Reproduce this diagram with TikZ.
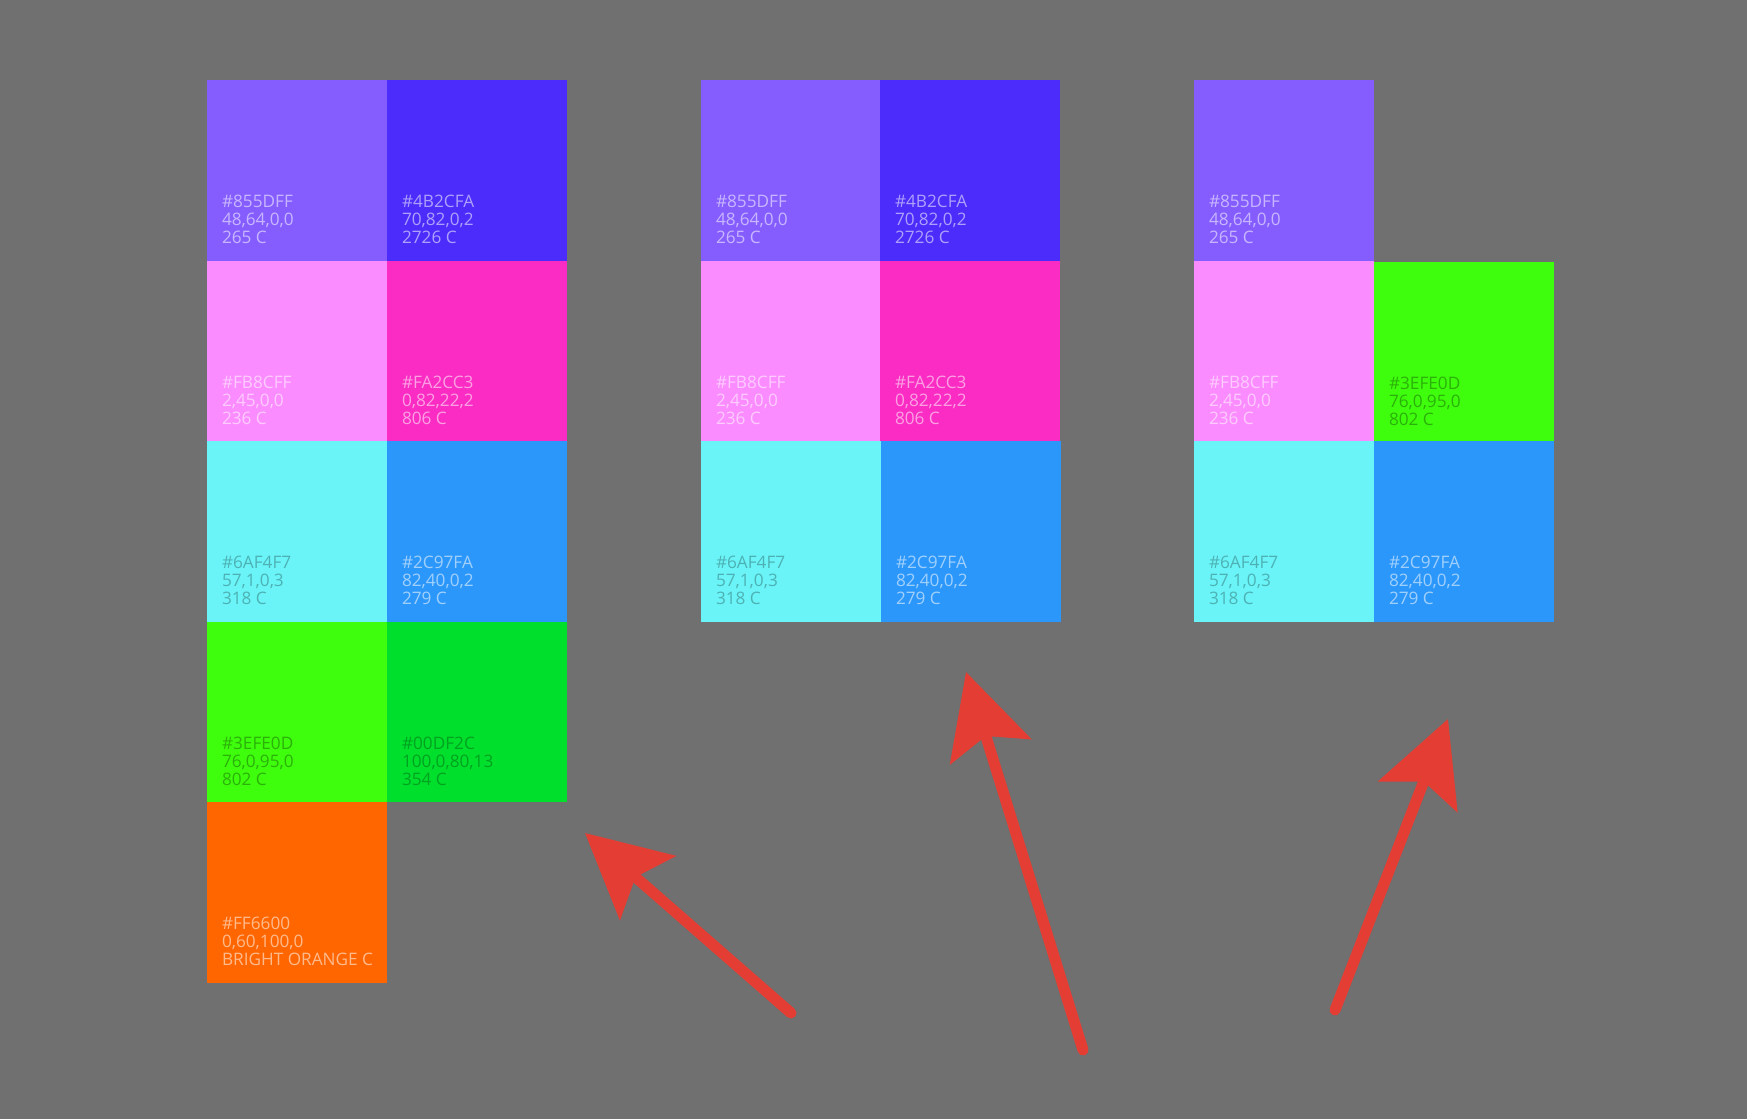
\documentclass[tikz,border=0pt]{standalone}
\usepackage{fontspec}
\setmainfont{Open Sans}
\usetikzlibrary{arrows.meta,calc}
\definecolor{bgcol}{HTML}{707070}
\definecolor{arrowred}{HTML}{E43D33}
\definecolor{cPurple}{HTML}{855DFF}
\definecolor{cBlue}{HTML}{4B2CFA}
\definecolor{cPink}{HTML}{FB8CFF}
\definecolor{cMagenta}{HTML}{FA2CC3}
\definecolor{cCyan}{HTML}{6AF4F7}
\definecolor{cSky}{HTML}{2C97FA}
\definecolor{cLime}{HTML}{3EFE0D}
\definecolor{cGreen}{HTML}{00DF2C}
\definecolor{cOrange}{HTML}{FF6600}
\newcommand\swatch[9]{%
  \node[cellbox, fill=#4] (#1) at (#2,#3) {};
  \node[celltext, text=#5, text opacity=#6] (#1t) at ($(#1.south west)+(15,-17)$) {#7\\#8\\#9};
}
\begin{document}
\begin{tikzpicture}[x=1pt,y=-1pt,
  cellbox/.style={rectangle, draw=none, inner sep=0pt, outer sep=0pt,
    minimum width=180pt, minimum height=180.5pt, anchor=north west},
  celltext/.style={inner sep=0pt, outer sep=0pt, anchor=south west, align=left,
    text depth=0pt, font=\fontsize{17.2}{18}\selectfont},
  redarrow/.style={draw=arrowred, line width=11pt, line cap=round,
    -{Stealth[length=83pt,width=84pt,inset=16pt]}}]
\fill[bgcol] (0,0) rectangle (1747,1119);
\useasboundingbox (0,0) rectangle (1747,1119);
% left block
\swatch{l11}{207}{80}{cPurple}{white}{0.55}{\#855DFF}{48,64,0,0}{265 C}
\swatch{l12}{387}{80}{cBlue}{white}{0.55}{\#4B2CFA}{70,82,0,2}{2726 C}
\swatch{l21}{207}{260.5}{cPink}{white}{0.55}{\#FB8CFF}{2,45,0,0}{236 C}
\swatch{l22}{387}{260.5}{cMagenta}{white}{0.55}{\#FA2CC3}{0,82,22,2}{806 C}
\swatch{l31}{207}{441}{cCyan}{black}{0.27}{\#6AF4F7}{57,1,0,3}{318 C}
\swatch{l32}{387}{441}{cSky}{white}{0.55}{\#2C97FA}{82,40,0,2}{279 C}
\swatch{l41}{207}{621.5}{cLime}{black}{0.3}{\#3EFE0D}{76,0,95,0}{802 C}
\swatch{l42}{387}{621.5}{cGreen}{black}{0.27}{\#00DF2C}{100,0,80,13}{354 C}
\swatch{l51}{207}{802}{cOrange}{white}{0.55}{\#FF6600}{0,60,100,0}{BRIGHT ORANGE C}
% middle block
\swatch{m11}{701}{80}{cPurple}{white}{0.55}{\#855DFF}{48,64,0,0}{265 C}
\swatch{m12}{880}{80}{cBlue}{white}{0.55}{\#4B2CFA}{70,82,0,2}{2726 C}
\swatch{m21}{701}{260.5}{cPink}{white}{0.55}{\#FB8CFF}{2,45,0,0}{236 C}
\swatch{m22}{880}{260.5}{cMagenta}{white}{0.55}{\#FA2CC3}{0,82,22,2}{806 C}
\swatch{m31}{701}{441}{cCyan}{black}{0.27}{\#6AF4F7}{57,1,0,3}{318 C}
\swatch{m32}{881}{441}{cSky}{white}{0.55}{\#2C97FA}{82,40,0,2}{279 C}
% right block
\swatch{r11}{1194}{80}{cPurple}{white}{0.55}{\#855DFF}{48,64,0,0}{265 C}
\swatch{r21}{1194}{260.5}{cPink}{white}{0.55}{\#FB8CFF}{2,45,0,0}{236 C}
\swatch{r22}{1374}{261.5}{cLime}{black}{0.3}{\#3EFE0D}{76,0,95,0}{802 C}
\swatch{r31}{1194}{441}{cCyan}{black}{0.27}{\#6AF4F7}{57,1,0,3}{318 C}
\swatch{r32}{1374}{441}{cSky}{white}{0.55}{\#2C97FA}{82,40,0,2}{279 C}
% arrows
\coordinate (a1s) at (791,1013);
\coordinate (a1e) at (585,833);
\coordinate (a2s) at (1083,1050);
\coordinate (a2e) at (966,672);
\coordinate (a3s) at (1335,1010);
\coordinate (a3e) at (1448,719);
\draw[redarrow] (a1s) -- (a1e);
\draw[redarrow] (a2s) -- (a2e);
\draw[redarrow] (a3s) -- (a3e);
\end{tikzpicture}
\end{document}
